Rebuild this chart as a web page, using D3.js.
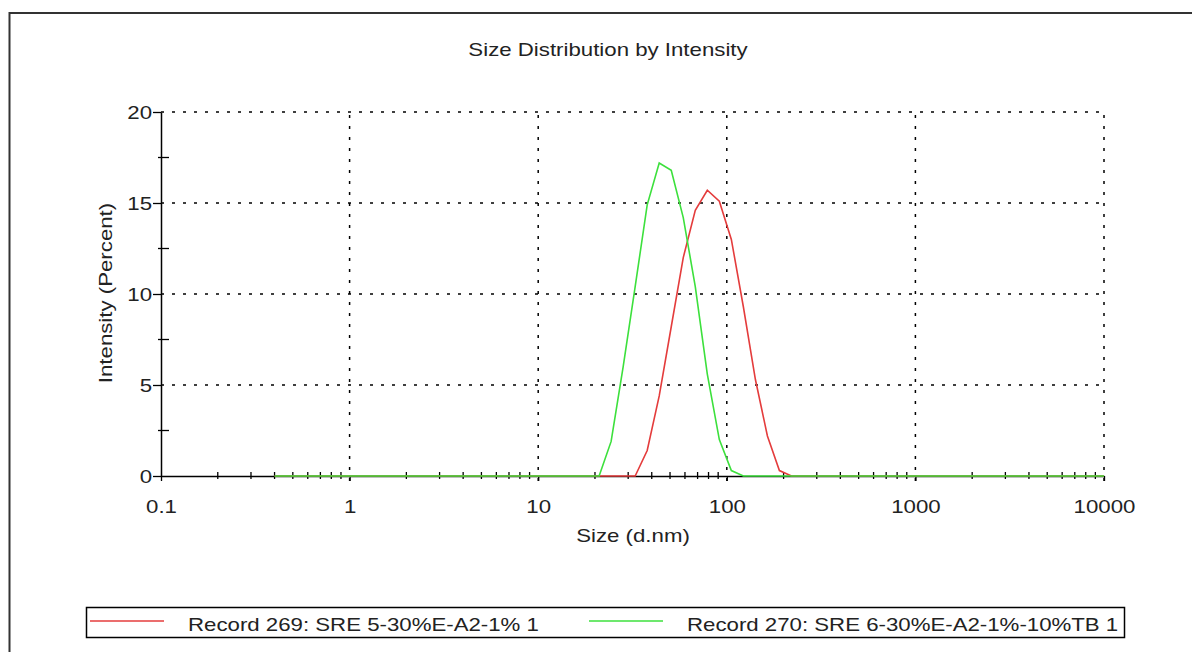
<!DOCTYPE html>
<html>
<head>
<meta charset="utf-8">
<script src="https://cdn.jsdelivr.net/npm/d3@7"></script>
<style>
  body { margin: 0; background: #fff; }
  text { font-family: "Liberation Sans", Arial, sans-serif; fill: #222; }
</style>
</head>
<body>
<script>
// size bins (d.nm)
var sizes = [0.4, 0.4632, 0.5365, 0.6213, 0.7195, 0.8332, 0.9649, 1.117, 1.294, 1.499,
  1.736, 2.01, 2.328, 2.696, 3.122, 3.615, 4.187, 4.849, 5.615, 6.503,
  7.531, 8.721, 10.1, 11.7, 13.54, 15.69, 18.17, 21.04, 24.36, 28.21,
  32.67, 37.84, 43.82, 50.75, 58.77, 68.06, 78.82, 91.28, 105.7, 122.4,
  141.8, 164.2, 190.1, 220.2, 255, 295.3, 342, 396.1, 458.7, 531.2,
  615.1, 712.4, 825, 955.4, 1106, 1281, 1484, 1718, 1990, 2305,
  2669, 3091, 3580, 4145, 4801, 5560, 6439, 7456, 8635, 10000];

var record269 = [0, 0, 0, 0, 0, 0, 0, 0, 0, 0,
  0, 0, 0, 0, 0, 0, 0, 0, 0, 0,
  0, 0, 0, 0, 0, 0, 0, 0, 0, 0,
  0, 1.4, 4.4, 8.2, 12.0, 14.6, 15.7, 15.1, 13.0, 9.3,
  5.3, 2.2, 0.3, 0, 0, 0, 0, 0, 0, 0,
  0, 0, 0, 0, 0, 0, 0, 0, 0, 0,
  0, 0, 0, 0, 0, 0, 0, 0, 0, 0];

var record270 = [0, 0, 0, 0, 0, 0, 0, 0, 0, 0,
  0, 0, 0, 0, 0, 0, 0, 0, 0, 0,
  0, 0, 0, 0, 0, 0, 0, 0, 1.9, 6.0,
  10.4, 14.9, 17.2, 16.8, 14.2, 10.4, 5.6, 2.0, 0.3, 0,
  0, 0, 0, 0, 0, 0, 0, 0, 0, 0,
  0, 0, 0, 0, 0, 0, 0, 0, 0, 0,
  0, 0, 0, 0, 0, 0, 0, 0, 0, 0];

var seriesNames = ["Record 269: SRE 5-30%E-A2-1% 1", "Record 270: SRE 6-30%E-A2-1%-10%TB 1"];
var xTicks = [0.1, 1, 10, 100, 1000, 10000];
var yTicks = [0, 5, 10, 15, 20];

var width = 1192, height = 652;
var stretch = 1.17;

var svg = d3.select("body").append("svg")
    .attr("width", width)
    .attr("height", height);

// outer frame (runs off the right/bottom)
svg.append("rect")
    .attr("x", 9.5).attr("y", 13)
    .attr("width", 1250).attr("height", 700)
    .attr("fill", "none")
    .attr("stroke", "#333")
    .attr("stroke-width", 2);

var x = d3.scaleLog().domain([0.1, 10000]).range([161, 1104]);
var y = d3.scaleLinear().domain([0, 20]).range([476, 112]);

// widen glyphs a bit, the source text is wider than Arial
function widen(sel) {
  sel.each(function() {
    var len = this.getComputedTextLength();
    d3.select(this)
      .attr("textLength", len * stretch)
      .attr("lengthAdjust", "spacingAndGlyphs");
  });
}

// grid
var grid = svg.append("g")
    .attr("stroke", "#000")
    .attr("stroke-width", 1.5)
    .attr("stroke-dasharray", "3,8");

grid.selectAll(".hg")
  .data(yTicks.slice(1))
  .enter().append("line")
    .attr("x1", x(0.1)).attr("x2", x(10000))
    .attr("y1", function(d) { return y(d); })
    .attr("y2", function(d) { return y(d); });

grid.selectAll(".vg")
  .data(xTicks.slice(1))
  .enter().append("line")
    .attr("x1", function(d) { return x(d); })
    .attr("x2", function(d) { return x(d); })
    .attr("y1", y(0) + 5).attr("y2", y(20));

// minor ticks
var minorX = [];
xTicks.slice(0, -1).forEach(function(d) {
  for (var k = 2; k < 10; k++) minorX.push(d * k);
});
var minorY = [2.5, 7.5, 12.5, 17.5];

var ticks = svg.append("g").attr("stroke", "#000").attr("stroke-width", 1.3);

ticks.selectAll(".mx")
  .data(minorX)
  .enter().append("line")
    .attr("x1", function(d) { return x(d); })
    .attr("x2", function(d) { return x(d); })
    .attr("y1", y(0) - 4).attr("y2", y(0) + 3);

ticks.selectAll(".my")
  .data(minorY)
  .enter().append("line")
    .attr("x1", x(0.1) - 3).attr("x2", x(0.1) + 8)
    .attr("y1", function(d) { return y(d); })
    .attr("y2", function(d) { return y(d); });

// axes
var xAxis = svg.append("g")
    .attr("transform", "translate(0," + y(0) + ")")
    .call(d3.axisBottom(x).tickValues(xTicks).tickFormat(d3.format("")).tickSize(5).tickSizeOuter(0));

var yAxis = svg.append("g")
    .attr("transform", "translate(" + x(0.1) + ",0)")
    .call(d3.axisLeft(y).tickValues(yTicks).tickSize(8).tickSizeOuter(0));

[xAxis, yAxis].forEach(function(a) {
  a.select(".domain").attr("stroke", "#000").attr("stroke-width", 1.5);
  a.selectAll(".tick line").attr("stroke", "#000").attr("stroke-width", 1.3);
  a.selectAll(".tick text")
    .attr("fill", "#222")
    .style("font-family", "Liberation Sans, Arial, sans-serif")
    .style("font-size", "19px");
});
xAxis.selectAll(".tick text").attr("dy", null).attr("y", 37);
yAxis.selectAll(".tick text").attr("x", -9).attr("dy", "0.36em");
xAxis.selectAll(".tick text").call(widen);
yAxis.selectAll(".tick text").call(widen);

// series
var line = d3.line()
    .x(function(d) { return x(d[0]); })
    .y(function(d) { return y(d[1]); });

var colors = ["#e43c3c", "#3ce03c"];
[record269, record270].forEach(function(vals, i) {
  svg.append("path")
    .datum(sizes.map(function(s, j) { return [s, vals[j]]; }))
    .attr("fill", "none")
    .attr("stroke", colors[i])
    .attr("stroke-width", 1.6)
    .attr("d", line);
});

// titles
svg.append("text")
    .attr("x", 608).attr("y", 56)
    .attr("text-anchor", "middle")
    .style("font-size", "19px")
    .text("Size Distribution by Intensity")
    .call(widen);

svg.append("text")
    .attr("x", 633).attr("y", 542)
    .attr("text-anchor", "middle")
    .style("font-size", "19px")
    .text("Size (d.nm)")
    .call(widen);

svg.append("text")
    .attr("transform", "translate(112,293) rotate(-90)")
    .attr("text-anchor", "middle")
    .style("font-size", "19px")
    .text("Intensity (Percent)")
    .call(widen);

// legend
svg.append("rect")
    .attr("x", 86.5).attr("y", 607.5)
    .attr("width", 1038).attr("height", 30)
    .attr("fill", "#fff")
    .attr("stroke", "#000")
    .attr("stroke-width", 1.5);

var legX = [90, 589];
seriesNames.forEach(function(name, i) {
  svg.append("line")
    .attr("x1", legX[i]).attr("x2", legX[i] + 74)
    .attr("y1", 621).attr("y2", 621)
    .attr("stroke", colors[i])
    .attr("stroke-width", 1.6);
  svg.append("text")
    .attr("x", legX[i] + 98).attr("y", 631)
    .style("font-size", "19px")
    .text(name)
    .call(widen);
});
</script>
</body>
</html>
